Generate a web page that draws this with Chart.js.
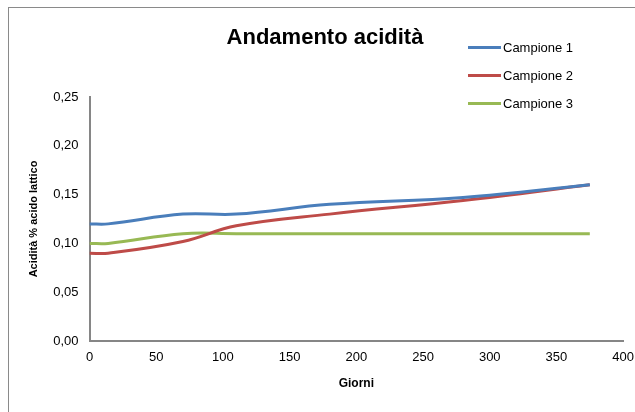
<!DOCTYPE html>
<html lang="it">
<head>
  <meta charset="UTF-8">
  <title>Andamento acidità</title>
  <script src="https://cdn.jsdelivr.net/npm/chart.js"></script>
  <style>
    html, body { margin: 0; padding: 0; background: #fff; }
    .wrap { position: relative; width: 635px; height: 412px; overflow: hidden; font-family: "Liberation Sans", Arial, sans-serif; }
    .frame { position: absolute; left: 8px; top: 7px; width: 700px; height: 500px; border-left: 1px solid #8a8a8a; border-top: 1px solid #8a8a8a; }
    .chart-title { position: absolute; left: 0; width: 650px; top: 24px; text-align: center; font-weight: bold; font-size: 22px; color: #000; }
    .legend { position: absolute; left: 468px; top: 34px; font-size: 13px; color: #000; }
    .legend-item { display: flex; align-items: center; height: 27.8px; }
    .legend-line { width: 33px; height: 3px; margin-right: 2px; }
    canvas { position: absolute; left: 0; top: 0; }
  </style>
</head>
<body>
  <div class="wrap">
    <div class="frame"></div>
    <!-- canvas a bit wider than the window so the last tick label is clipped like the original -->
    <canvas id="acidity-chart" width="643" height="412"></canvas>
    <div class="chart-title">Andamento acidità</div>
    <div class="legend" id="legend"></div>
  </div>
  <script>
    const days = [0, 14, 70, 110, 180, 280, 375];
    const campione1 = [0.12, 0.12, 0.13, 0.13, 0.14, 0.147, 0.16];
    const campione2 = [0.09, 0.09, 0.102, 0.118, 0.13, 0.144, 0.16];
    const campione3 = [0.10, 0.10, 0.11, 0.11, 0.11, 0.11, 0.11];
    const seriesNames = ['Campione 1', 'Campione 2', 'Campione 3'];
    const seriesColors = ['#4A7EBB', '#BE4B48', '#98B954'];

    const allSeries = [campione1, campione2, campione3];
    const datasets = allSeries.map((vals, i) => ({
      label: seriesNames[i],
      data: days.map((d, j) => ({ x: d, y: vals[j] })),
      borderColor: seriesColors[i],
      backgroundColor: seriesColors[i],
      borderWidth: 3,
      pointRadius: 0,
      tension: 0.4,
      fill: false
    }));

    document.getElementById('legend').innerHTML = seriesNames.map((name, i) => `
      <div class="legend-item"><span class="legend-line" style="background:${seriesColors[i]}"></span>${name}</div>
    `).join('');

    const axisGray = '#868686';
    new Chart(document.getElementById('acidity-chart'), {
      type: 'line',
      data: { datasets },
      options: {
        responsive: false,
        animation: false,
        layout: { padding: { top: 97, right: 0, bottom: 17, left: 25 } },
        plugins: { legend: { display: false }, title: { display: false }, tooltip: { enabled: false } },
        scales: {
          x: {
            type: 'linear',
            min: 0, max: 400,
            grid: { display: false, drawTicks: false },
            border: { display: true, color: axisGray, width: 2 },
            ticks: { stepSize: 50, padding: 9, color: '#000', font: { family: 'Liberation Sans', size: 13 } },
            title: { display: true, text: 'Giorni', color: '#000', font: { family: 'Liberation Sans', size: 12, weight: 'bold' }, padding: { top: 2 } }
          },
          y: {
            min: 0, max: 0.25,
            grid: { display: false, drawTicks: false },
            border: { display: true, color: axisGray, width: 2 },
            ticks: {
              stepSize: 0.05, padding: 11, color: '#000',
              font: { family: 'Liberation Sans', size: 13 },
              callback: v => v.toFixed(2).replace('.', ',')
            },
            title: { display: true, text: 'Acidità % acido lattico', color: '#000', font: { family: 'Liberation Sans', size: 11, weight: 'bold' }, padding: 2 }
          }
        }
      }
    });
  </script>
</body>
</html>
